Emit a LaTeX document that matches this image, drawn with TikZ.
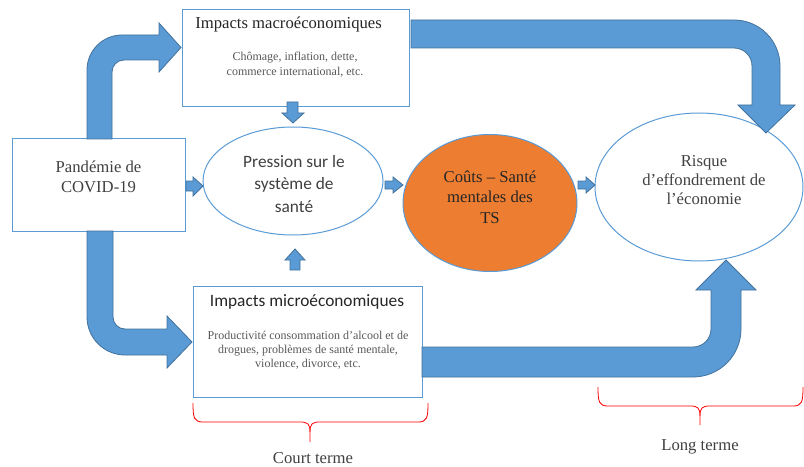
\documentclass[tikz,border=0pt]{standalone}
\usepackage{fontspec}
\setmainfont{Liberation Serif}
\newfontfamily\calibri{Carlito}
\usetikzlibrary{shapes.geometric}
\definecolor{boxblue}{HTML}{5B9BD5}
\definecolor{arrowedge}{HTML}{41719C}
\definecolor{orangefill}{HTML}{ED7D31}
\definecolor{txtdark}{HTML}{262626}
\definecolor{txtgray}{HTML}{404040}
\definecolor{txtlight}{HTML}{595959}
\begin{document}
\begin{tikzpicture}[x=0.75pt,y=-0.75pt,
  box/.style={draw=boxblue, line width=0.75pt, fill=white, rectangle, inner sep=0pt},
  oval/.style={draw=boxblue, line width=0.75pt, ellipse, inner sep=0pt},
  blockarrow/.style={fill=boxblue, draw=arrowedge, line width=0.6pt, line join=miter},
  brace/.style={draw=red, line width=0.6pt},
  maintext/.style={align=center, text=txtgray, font=\fontsize{12.5}{15}\selectfont, inner sep=0pt},
  sanstext/.style={align=center, text=txtgray, font=\calibri\fontsize{13}{17}\selectfont, inner sep=0pt},
  smalltext/.style={align=center, text=txtlight, font=\fontsize{9}{11}\selectfont, inner sep=0pt}]
\useasboundingbox (0,0) rectangle (804,467);

% boxes and ovals
\node[box, minimum width=170.25pt, minimum height=72.75pt] (macro) at (295.5,58.5) {};
\node[box, minimum width=129.75pt, minimum height=69pt] (pand) at (98.5,185) {};
\node[box, minimum width=171.75pt, minimum height=83.25pt] (micro) at (307.5,341.5) {};
\node[oval, minimum width=135pt, minimum height=81pt] (press) at (293,181) {};
\node[oval, fill=orangefill, minimum width=130.5pt, minimum height=102.75pt] (couts) at (490,203) {};
\node[oval, minimum width=156pt, minimum height=111pt] (risque) at (699,187) {};

% texts
\node[maintext, text=txtdark, anchor=west] (macrotitle) at (195,24) {Impacts macroéconomiques};
\node[smalltext] (macrobody) at (295,65) {Chômage, inflation, dette,\\commerce international, etc.};
\node[maintext] (pandtext) at (98.5,177) {Pandémie de\\COVID-19};
\node[sanstext] (presstext) at (294,184) {Pression sur le\\système de\\santé};
\node[maintext, text=txtdark, font=\fontsize{12.5}{15.4}\selectfont] (coutstext) at (490,197) {Coûts – Santé\\mentales des\\TS};
\node[maintext, font=\fontsize{12.5}{14}\selectfont] (risquetext) at (704,180) {Risque\\d’effondrement de\\l’économie};
\node[sanstext, text=txtdark] (microtitle) at (307,302) {Impacts microéconomiques};
\node[smalltext, font=\fontsize{9}{10.5}\selectfont] (microbody) at (308,350) {Productivité consommation d’alcool et de\\drogues, problèmes de santé mentale,\\violence, divorce, etc.};
\node[maintext] (court) at (313,458) {Court terme};
\node[maintext] (long) at (700,447) {Long terme};

% big bent arrows
\draw[blockarrow] (87,139) -- (87,70) arc[start angle=180, end angle=270, radius=35] -- (159,35) -- (159,23) -- (181,47.5) -- (159,72) -- (159,60) -- (124,60) arc[start angle=270, end angle=180, radius=12] -- (112,139) -- cycle;
\draw[blockarrow] (87,231) -- (87,317) arc[start angle=180, end angle=90, radius=38] -- (167,355) -- (167,368) -- (192,342) -- (167,316) -- (167,329) -- (125,329) arc[start angle=90, end angle=180, radius=12] -- (113,231) -- cycle;
\draw[blockarrow] (411,20) -- (734,20) arc[start angle=270, end angle=360, radius=46] -- (780,105) -- (795,105) -- (766,133) -- (738,105) -- (752,105) -- (752,66) arc[start angle=0, end angle=-90, radius=18] -- (411,48) -- cycle;
\draw[blockarrow] (422,377) -- (693,377) arc[start angle=90, end angle=0, radius=48] -- (741,290) -- (756,290) -- (726,260) -- (696,290) -- (711,290) -- (711,329) arc[start angle=0, end angle=90, radius=18] -- (422,347) -- cycle;

% small block arrows
\draw[blockarrow] (186,181) -- (193,181) -- (193,177) -- (203,186) -- (193,196) -- (193,191) -- (186,191) -- cycle;
\draw[blockarrow] (385,181) -- (393,181) -- (393,177) -- (403,185) -- (393,193) -- (393,189) -- (385,189) -- cycle;
\draw[blockarrow] (578,181) -- (586,181) -- (586,177) -- (595,185) -- (586,193) -- (586,189) -- (578,189) -- cycle;
\draw[blockarrow] (287,102) -- (298,102) -- (298,113) -- (304,113) -- (293,123) -- (282,113) -- (287,113) -- cycle;
\draw[blockarrow] (290,270) -- (300,270) -- (300,260) -- (305,260) -- (295,249) -- (285,260) -- (290,260) -- cycle;

% braces
\draw[brace] (193,403) .. controls (193,418) and (194,422) .. (203,422) -- (300,422) .. controls (308,422) and (310,424) .. (310,432) -- (310,442);
\draw[brace] (428,403) .. controls (428,418) and (427,422) .. (418,422) -- (320,422) .. controls (312,422) and (310,424) .. (310,432);
\draw[brace] (598,387) .. controls (598,402) and (599,406) .. (608,406) -- (690,406) .. controls (698,406) and (700,408) .. (700,416) -- (700,425);
\draw[brace] (803,387) .. controls (803,402) and (802,406) .. (793,406) -- (710,406) .. controls (702,406) and (700,408) .. (700,416);
\end{tikzpicture}
\end{document}
